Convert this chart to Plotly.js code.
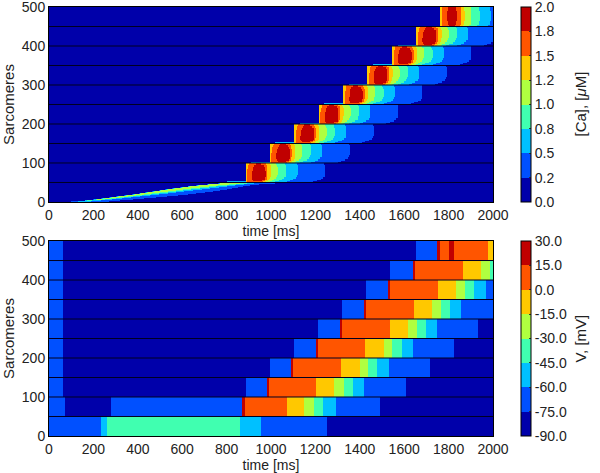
<!DOCTYPE html>
<html>
<head>
<meta charset="utf-8">
<script src="https://cdn.plot.ly/plotly-3.0.1.min.js"></script>
<style>html,body{margin:0;padding:0;background:#fff}</style>
</head>
<body>
<div id="chart" style="width:600px;height:473px"></div>
<script>
var bandColors = ['#0000aa','#0050ff','#00c0ff','#40ffb0','#b0ff40','#ffc800','#ff5500','#c00000'];
var caTickVals = [0,0.25,0.5,0.75,1,1.25,1.5,1.75,2];
var caTickText = ['0.0','0.2','0.5','0.8','1.0','1.2','1.5','1.8','2.0'];
var vTickVals = [-90,-75,-60,-45,-30,-15,0,15,30];
var vTickText = ['-90.0','-75.0','-60.0','-45.0','-30.0','-15.0','0.0','15.0','30.0'];
var xTicks = [0,200,400,600,800,1000,1200,1400,1600,1800,2000];
var yTicks = [0,100,200,300,400,500];
var rowLines = [50,100,150,200,250,300,350,400,450];

// Ca: lowest band (0-50), levels rise then fall along time: mb, lb, teal, yg | teal, lb, mb, background
var caWedgeLevels = [1,2,3,4,3,2,1,0];
var caWedgeY = [0,2.5,5,7.5,10,12.5,15,17.5,20,22.5,25,27.5,30,32.5,35,37.5,40,42.5,45,47.5,50];
var caWedge = [
 [100,130,145,145,145,145,190,270],
 [160,165,170,170,170,195,235,320],
 [200,205,210,215,240,255,285,380],
 [235,240,245,250,280,300,330,430],
 [270,274,278,282,320,340,370,480],
 [305,309,313,317,355,380,410,530],
 [340,344,348,352,395,420,455,580],
 [375,379,383,387,430,460,495,625],
 [405,409,413,417,465,495,535,665],
 [435,439,443,447,500,535,575,705],
 [465,469,473,477,535,570,610,740],
 [495,499,503,507,570,605,650,770],
 [525,529,533,537,605,640,690,800],
 [555,559,563,567,640,680,725,825],
 [590,594,598,602,680,720,765,850],
 [625,629,633,637,720,755,800,875],
 [665,669,673,677,760,800,840,905],
 [710,714,718,722,810,845,880,945],
 [760,764,768,772,860,890,925,1020],
 [820,825,830,835,886,915,950,1120]
];

// Ca: activation time of each block and its measured profile (ms after activation)
var caBandBase = [50,100,150,200,250,300,350,400];
var caOnsets = [886,996,1105,1215,1325,1435,1545,1655];
var caBlockLevels = [5,6,7,6,5,4,3,2,1,0];
var caBlockY = [0,3,6,10,15,20,25,30,35,40,45,50];
var caBlock = [
 [0,7,38,38,78,92,110,135,185,305],
 [0,7,34,72,86,100,118,150,200,320],
 [0,7,30,86,94,106,128,165,215,338],
 [0,7,28,88,96,110,138,175,226,350],
 [0,7,28,90,98,112,142,180,232,356],
 [0,7,29,90,98,113,145,183,234,358],
 [0,8,30,90,98,113,145,183,234,358],
 [0,9,32,89,98,113,145,183,234,358],
 [0,11,34,87,97,113,145,183,234,358],
 [0,13,38,82,95,112,143,182,234,358],
 [0,16,46,70,90,108,138,178,230,355]
];
var caSliverStart = -85;
var caSliverLevel = 2;

// Ca: top band (450-500)
var caTopOnset = 1763;
var caTopY = [450,455,465,490,500];
var caTop = [
 [0,10,40,65,88,103,130,165,215,400],
 [0,10,34,72,92,107,137,175,225,400],
 [0,10,32,75,94,109,139,177,228,400],
 [0,10,36,72,92,107,137,175,226,400]
];

// V: each row, the end time of every colour segment and its level
var vY = [0,50,100,150,200,250,300,350,400,450,500];
var vEnds = [
 [237,262,860,957,1253,2000],
 [73,279,871,882,1074,1148,1192,1237,1295,1490,2000],
 [65,886,984,991,1205,1287,1328,1370,1420,1610,2000],
 [65,994,1092,1100,1317,1400,1437,1479,1532,1718,2000],
 [65,1102,1202,1212,1425,1508,1547,1589,1641,1827,2000],
 [65,1212,1310,1320,1535,1617,1656,1698,1750,1935,2000],
 [65,1322,1418,1430,1643,1725,1765,1807,1859,2000],
 [65,1430,1529,1539,1752,1834,1875,1915,1970,2000],
 [65,1539,1640,1649,1864,1948,1988,2000],
 [65,1652,1749,1760,1804,1827,1976,2000]
];
var vLevels = [
 [1,2,3,2,1,0],
 [1,0,1,7,6,5,4,3,2,1,0],
 [1,0,1,7,6,5,4,3,2,1,0],
 [1,0,1,7,6,5,4,3,2,1,0],
 [1,0,1,7,6,5,4,3,2,1,0],
 [1,0,1,7,6,5,4,3,2,1,0],
 [1,0,1,7,6,5,4,3,2,1],
 [1,0,1,7,6,5,4,3,2,1],
 [1,0,1,7,6,5,4,3],
 [1,0,1,7,6,7,6,5]
];

// helpers
var xEdges = [];
for (var i = 0; i <= 1000; i++) xEdges.push(i * 2);

function stepScale() {
  var s = [], n = bandColors.length;
  for (var k = 0; k < n; k++) { s.push([k / n, bandColors[k]]); s.push([(k + 1) / n, bandColors[k]]); }
  return s;
}
function rowFromStarts(starts, levels, base, offset) {
  var row = [];
  for (var c = 0; c < 1000; c++) {
    var t = xEdges[c] + 1, lev = base;
    for (var k = 0; k < starts.length; k++) if (t >= starts[k] + offset) lev = levels[k];
    row.push(lev);
  }
  return row;
}
function rowFromEnds(ends, levels) {
  var row = [];
  for (var c = 0; c < 1000; c++) {
    var t = xEdges[c] + 1, k = 0;
    while (k < ends.length - 1 && t >= ends[k]) k++;
    row.push(levels[k]);
  }
  return row;
}
function toValue(row, lo, hi) {
  var w = (hi - lo) / bandColors.length;
  return row.map(function (l) { return lo + (l + 0.5) * w; });
}

// assemble Ca grid
var caY = [], caZ = [];
caWedgeY.forEach(function (y) { caY.push(y); });
caWedge.forEach(function (r) { caZ.push(toValue(rowFromStarts(r, caWedgeLevels, 0, 0), 0, 2)); });
caBandBase.forEach(function (b, bi) {
  caBlock.forEach(function (r, ri) {
    caY.push(b + caBlockY[ri + 1]);
    var row = rowFromStarts(r, caBlockLevels, 0, caOnsets[bi]);
    if (ri === 0) for (var c = 0; c < 1000; c++) {
      var t = xEdges[c] + 1;
      if (t >= caOnsets[bi] + caSliverStart && t < caOnsets[bi]) row[c] = caSliverLevel;
    }
    caZ.push(toValue(row, 0, 2));
  });
});
caTop.forEach(function (r, ri) {
  caY.push(caTopY[ri + 1]);
  caZ.push(toValue(rowFromStarts(r, caBlockLevels, 0, caTopOnset), 0, 2));
});

var vZ = vEnds.map(function (e, i) { return toValue(rowFromEnds(e, vLevels[i]), -90, 30); });

var tickFont = {family: 'Liberation Sans, Arial, sans-serif', size: 14, color: '#222'};
var yTitleFont = {family: 'Liberation Sans, Arial, sans-serif', size: 15, color: '#222'};
function cbar(y, vals, text) {
  return {x: 1.0631, xanchor: 'left', xref: 'paper', y: y, yanchor: 'bottom', yref: 'paper', len: 0.4545, lenmode: 'fraction',
    thickness: 10, thicknessmode: 'pixels', xpad: 0, ypad: 0, outlinecolor: '#000', outlinewidth: 1,
    tickmode: 'array', tickvals: vals, ticktext: text, ticks: 'inside', ticklen: 2, tickcolor: '#333', tickfont: tickFont,
    ticklabeloverflow: 'allow'};
}
var data = [
  {type: 'heatmap', x: xEdges, y: caY, z: caZ, zmin: 0, zmax: 2, zsmooth: false, colorscale: stepScale(),
   xaxis: 'x', yaxis: 'y', colorbar: cbar(0.5455, caTickVals, caTickText), hoverinfo: 'skip'},
  {type: 'heatmap', x: xEdges, y: vY, z: vZ, zmin: -90, zmax: 30, zsmooth: false, colorscale: stepScale(),
   xaxis: 'x2', yaxis: 'y2', colorbar: cbar(0, vTickVals, vTickText), hoverinfo: 'skip'}
];
function xAxis(anchor) {
  return {domain: [0, 1], range: [0, 2000], anchor: anchor, tickmode: 'array', tickvals: xTicks, ticks: '', tickfont: tickFont,
    ticklabeloverflow: 'allow', showgrid: false, zeroline: false, showline: true, linecolor: '#000', linewidth: 1, mirror: true,
    title: {text: 'time [ms]', font: tickFont, standoff: 0}, automargin: false};
}
function yAxis(anchor, dom) {
  return {domain: dom, range: [0, 500], anchor: anchor, tickmode: 'array', tickvals: yTicks, ticks: '', tickfont: tickFont,
    ticklabeloverflow: 'allow', showgrid: false, zeroline: false, showline: true, linecolor: '#000', linewidth: 1, mirror: true,
    title: {text: 'Sarcomeres', font: yTitleFont, standoff: 6}, automargin: false};
}
var shapes = [];
['y', 'y2'].forEach(function (ya) {
  rowLines.forEach(function (v) {
    shapes.push({type: 'line', xref: 'paper', x0: 0, x1: 1, yref: ya, y0: v, y1: v, line: {color: '#000020', width: 1}, layer: 'above'});
  });
});
var barTitles = [
  {text: '[Ca], [<i>μ</i>M]', x: 1.196, y: 0.7727},
  {text: 'V, [mV]', x: 1.196, y: 0.2273}
];
var layout = {
  width: 600, height: 473, showlegend: false, paper_bgcolor: '#fff', plot_bgcolor: '#fff',
  margin: {l: 49, r: 107, t: 7, b: 37, pad: 0},
  xaxis: xAxis('y'), yaxis: yAxis('x', [0.5455, 1]),
  xaxis2: xAxis('y2'), yaxis2: yAxis('x2', [0, 0.4545]),
  shapes: shapes,
  annotations: barTitles.map(function (t) {
    return {text: t.text, xref: 'paper', yref: 'paper', x: t.x, y: t.y, xanchor: 'center', yanchor: 'middle', textangle: -90,
      showarrow: false, font: yTitleFont};
  })
};
Plotly.newPlot('chart', data, layout, {displayModeBar: false, staticPlot: true});
</script>
</body>
</html>
